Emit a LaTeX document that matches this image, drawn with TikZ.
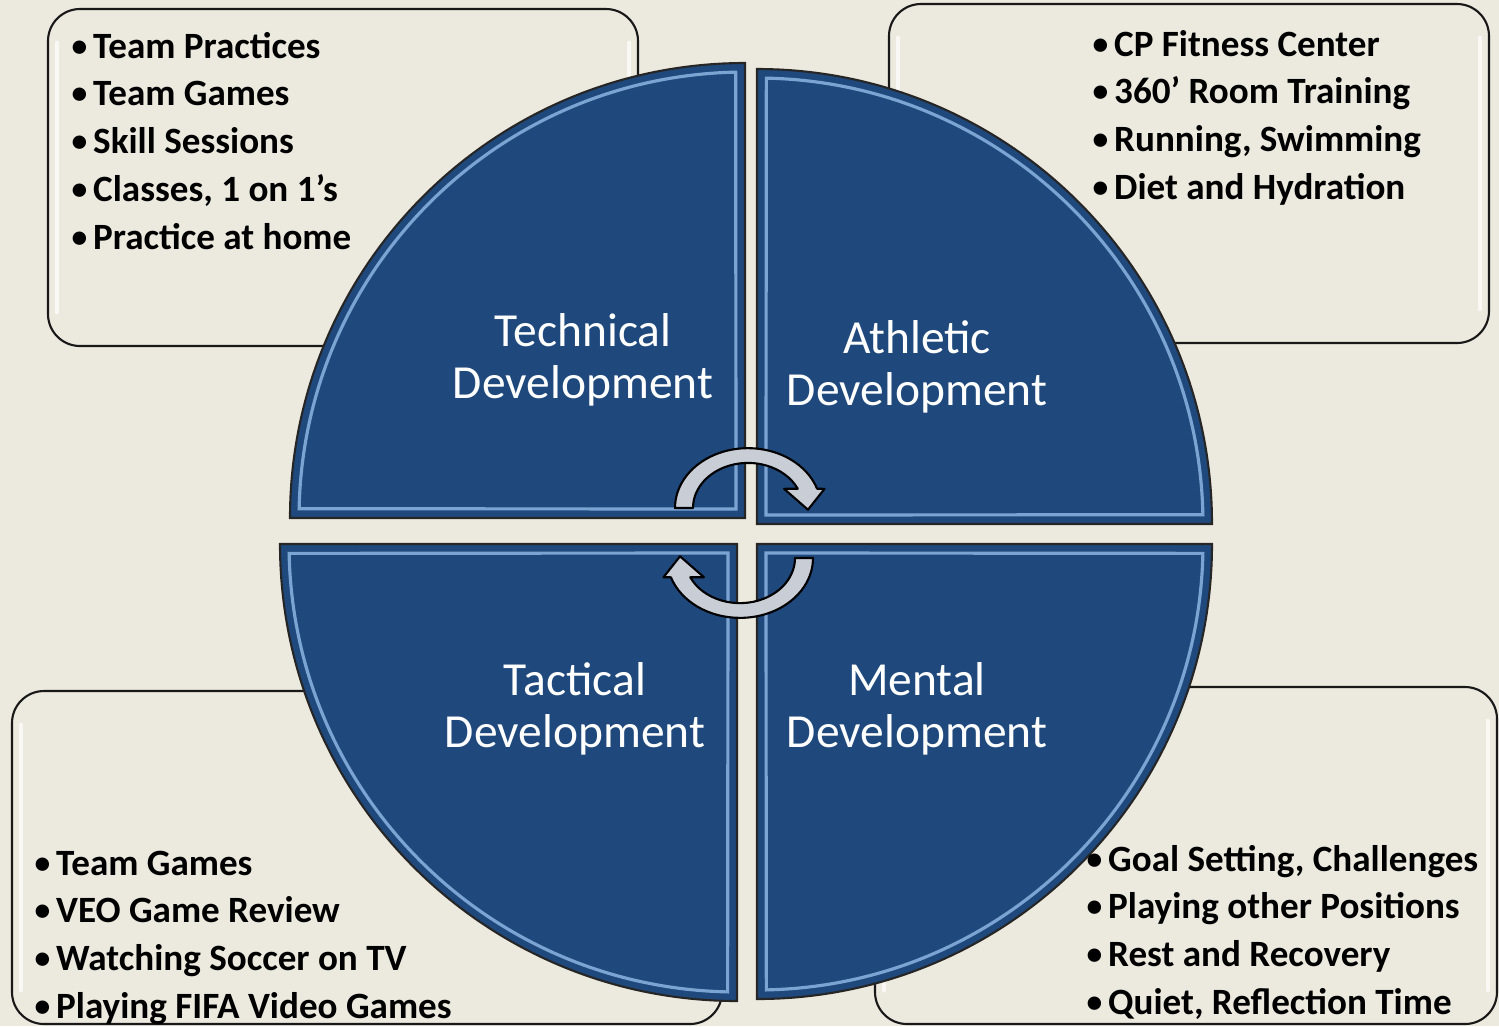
\documentclass[tikz,border=0pt]{standalone}
\usepackage{fontspec}
\setmainfont{Carlito}
\definecolor{paper}{RGB}{236,233,223}
\definecolor{sectorblue}{RGB}{31,73,125}
\definecolor{shineblue}{RGB}{141,180,226}
\definecolor{arrowgray}{RGB}{200,205,214}
\tikzset{
    sectorfill/.style={fill=sectorblue},
    sectorshine/.style={draw=shineblue, line width=0.9pt, line join=miter, opacity=0.85},
    sectoredge/.style={draw=black!85, line width=0.6pt},
    listbox/.style={draw=black!90, fill=paper, line width=0.6pt, rounded corners=0.32cm},
    boxshine/.style={draw=white, line width=1.4pt, opacity=0.7, line cap=round},
    listitem/.style={anchor=base west, inner sep=0pt, font=\fontsize{10.55}{12.5}\selectfont\bfseries},
    sectorlabel/.style={align=center, text=white, inner sep=0pt, font=\fontsize{13.5}{14.8}\selectfont},
    cyclearrow/.style={fill=arrowgray, draw=black, line width=0.6pt, line join=round},
}
% corner x, corner y, start angle, radius
\newcommand\Sector[4]{%
    \begin{scope}[shift={(#1,#2)}]
        \fill[sectorfill] (0,0) -- (#3:#4) arc[start angle=#3, end angle=#3+90, radius=#4] -- cycle;
        \draw[sectorshine] (#3+45:12.7) -- (#3+1.2:#4-9) arc[start angle=#3+1.2, end angle=#3+88.8, radius=#4-9] -- cycle;
        \draw[sectoredge] (0,0) -- (#3:#4) arc[start angle=#3, end angle=#3+90, radius=#4] -- cycle;
    \end{scope}
}
% x1, y1, x2, y2
\newcommand\ListBox[4]{%
    \draw[listbox] (#1,#2) rectangle (#3,#4);
    \draw[boxshine] (#1+9,#2+34) -- (#1+9,#4-34);
    \draw[boxshine] (#3-9,#2+34) -- (#3-9,#4-34);
}
\newcommand\Dot{\raisebox{0.05em}{\scalebox{0.85}{\textbullet}}}
% name, x, first baseline, items
\newcommand\BulletList[4]{%
    \foreach \txt [count=\k from 0] in {#4}
        \node[listitem] (#1-\k) at (#2,#3+47.8*\k) {\makebox[0.215cm][l]{\Dot}\txt};
}
% rotation about the middle
\newcommand\CycleArrow[1]{%
    \begin{scope}[shift={(744,533)}, rotate=#1]
        \begin{scope}[shift={(4,-25)}, yscale=-0.82]
            \draw[cyclearrow] (180:73) arc[start angle=180, end angle=18.8, radius=73]
                -- (17:80) -- (-2:60) -- (33:43) -- (25.3:55)
                arc[start angle=25.3, end angle=180, radius=55] -- cycle;
        \end{scope}
    \end{scope}
}

\begin{document}
\begin{tikzpicture}[x=0.01cm, y=-0.01cm]
    \useasboundingbox (0,0) rectangle (1499,1026);
    \fill[paper] (0,0) rectangle (1499,1026);

    \ListBox{48}{9}{638}{346}
    \ListBox{889}{4}{1489}{343}
    \ListBox{12}{691}{722}{1024}
    \ListBox{875}{687}{1497}{1024}

    \Sector{745}{518}{180}{455}
    \Sector{757}{524}{270}{455}
    \Sector{757}{544}{0}{455}
    \Sector{737}{544}{90}{457}

    \CycleArrow{0}
    \CycleArrow{180}

    \node[sectorlabel] (technical) at (583,360) {Technical\\Development};
    \node[sectorlabel] (athletic) at (917,367) {Athletic\\Development};
    \node[sectorlabel] (tactical) at (575,709) {Tactical\\Development};
    \node[sectorlabel] (mental) at (917,709) {Mental\\Development};

    \BulletList{tl}{71}{58}{Team Practices, Team Games, Skill Sessions, {Classes, 1 on 1’s}, Practice at home}
    \BulletList{tr}{1092}{56}{CP Fitness Center, 360’ Room Training, {Running, Swimming}, Diet and Hydration}
    \BulletList{bl}{34}{875}{Team Games, VEO Game Review, Watching Soccer on TV, Playing FIFA Video Games}
    \BulletList{br}{1086}{871}{{Goal Setting, Challenges}, Playing other Positions, Rest and Recovery, {Quiet, Reflection Time}}
\end{tikzpicture}
\end{document}
